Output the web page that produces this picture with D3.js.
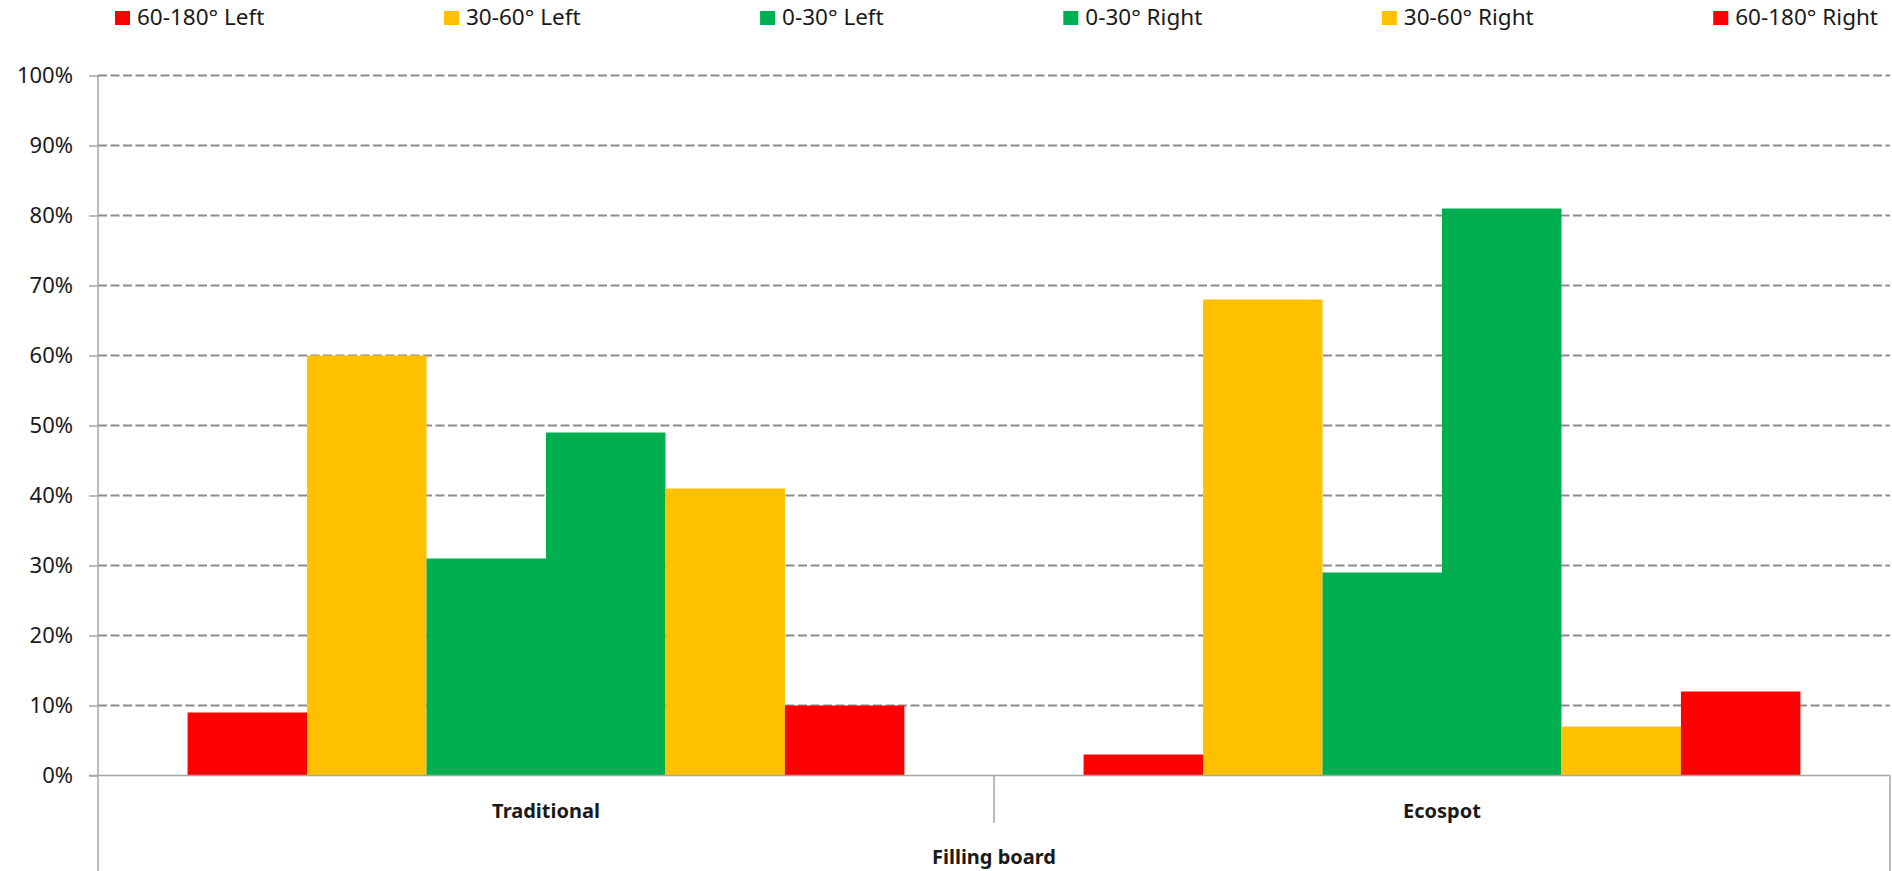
<!DOCTYPE html>
<html>
<head>
<meta charset="utf-8">
<script src="https://cdn.jsdelivr.net/npm/d3@7"></script>
<style>
  html, body { margin: 0; padding: 0; background: #fff; }
  svg { display: block; font-family: "Noto Sans", "Liberation Sans", sans-serif; }
</style>
</head>
<body>
<svg id="chart" width="1892" height="871"></svg>
<script>
// Share of turns by angle band, per filling board type
const categories = ["Traditional", "Ecospot"];
const seriesNames = ["60-180° Left", "30-60° Left", "0-30° Left", "0-30° Right", "30-60° Right", "60-180° Right"];
const seriesColors = ["#FF0000", "#FFC000", "#00B050", "#00B050", "#FFC000", "#FF0000"];
const traditionalValues = [0.09, 0.60, 0.31, 0.49, 0.41, 0.10];
const ecospotValues = [0.03, 0.68, 0.29, 0.81, 0.07, 0.12];
const yTicks = [0, 0.1, 0.2, 0.3, 0.4, 0.5, 0.6, 0.7, 0.8, 0.9, 1.0];
const axisTitle = "Filling board";

const valuesByCategory = [traditionalValues, ecospotValues];
const rows = categories.map((c, i) => ({ category: c, values: valuesByCategory[i] }));

const svg = d3.select("#chart");
const plot = { left: 98, right: 1890, top: 75.5, bottom: 775.5 };
const axisGray = "#a6a6a6";

const x0 = d3.scaleBand().domain(categories).range([plot.left, plot.right]).paddingInner(0).paddingOuter(0);
const x1 = d3.scaleBand().domain(d3.range(seriesNames.length)).range([0, x0.bandwidth()]).paddingInner(0).paddingOuter(0.75);
const y = d3.scaleLinear().domain([0, 1]).range([plot.bottom, plot.top]);

// Dashed horizontal gridlines
svg.append("g")
  .selectAll("line")
  .data(yTicks.filter(t => t > 0))
  .join("line")
  .attr("x1", plot.left).attr("x2", plot.right)
  .attr("y1", d => y(d)).attr("y2", d => y(d))
  .attr("stroke", "#8c8c8c")
  .attr("stroke-width", 2)
  .attr("stroke-dasharray", "9,3.5");

// Y axis with percentage labels
const yAxis = svg.append("g")
  .attr("transform", `translate(${plot.left},0)`)
  .call(d3.axisLeft(y).tickValues(yTicks).tickFormat(d3.format(".0%")).tickSize(9).tickPadding(16));
yAxis.select(".domain").remove();
yAxis.selectAll(".tick line").attr("stroke", axisGray).attr("stroke-width", 1.5);
yAxis.selectAll(".tick text")
  .attr("fill", "#1a1a1a")
  .style("font-size", "22px")
  .style("font-family", "'Noto Sans', sans-serif");

// Bars
const groups = svg.append("g")
  .selectAll("g")
  .data(rows)
  .join("g")
  .attr("transform", d => `translate(${x0(d.category)},0)`);

groups.selectAll("rect")
  .data(d => d.values.map((v, i) => ({ v, i })))
  .join("rect")
  .attr("x", d => x1(d.i))
  .attr("width", x1.bandwidth())
  .attr("y", d => y(d.v))
  .attr("height", d => y(0) - y(d.v))
  .attr("fill", d => seriesColors[d.i]);

// Axis lines
const axes = svg.append("g").attr("stroke", axisGray).attr("stroke-width", 1.5);
axes.append("line").attr("x1", plot.left).attr("x2", plot.left).attr("y1", plot.top).attr("y2", 871);
axes.append("line").attr("x1", plot.left - 9).attr("x2", plot.right).attr("y1", y(0)).attr("y2", y(0));
axes.append("line").attr("x1", plot.right).attr("x2", plot.right).attr("y1", y(0)).attr("y2", 871);
// Divider between category groups
categories.slice(1).forEach(c => {
  axes.append("line").attr("x1", x0(c)).attr("x2", x0(c)).attr("y1", y(0)).attr("y2", 823);
});

// Category labels
svg.append("g")
  .selectAll("text")
  .data(categories)
  .join("text")
  .attr("x", d => x0(d) + x0.bandwidth() / 2)
  .attr("y", 818)
  .attr("text-anchor", "middle")
  .attr("fill", "#1a1a1a")
  .style("font-size", "20px")
  .style("font-weight", "bold")
  .text(d => d);

// Axis title
svg.append("text")
  .attr("x", (plot.left + plot.right) / 2)
  .attr("y", 864)
  .attr("text-anchor", "middle")
  .attr("fill", "#1a1a1a")
  .style("font-size", "20px")
  .style("font-weight", "bold")
  .text(axisTitle);

// Legend across the top, spread evenly between both ends
const legendStart = 115, legendEnd = 1878, swatch = 15, textGap = 22;
const legend = svg.append("g");
const items = legend.selectAll("g")
  .data(seriesNames)
  .join("g");
items.append("rect")
  .attr("y", 11)
  .attr("width", swatch)
  .attr("height", 14)
  .attr("fill", (d, i) => seriesColors[i]);
items.append("text")
  .attr("x", textGap)
  .attr("y", 25)
  .attr("fill", "#1a1a1a")
  .style("font-size", "22.5px")
  .text(d => d);

const widths = [];
items.select("text").each(function () { widths.push(textGap + this.getComputedTextLength()); });
const free = (legendEnd - legendStart) - d3.sum(widths);
const spacing = free / (seriesNames.length - 1);
let cursor = legendStart;
items.each(function (d, i) {
  d3.select(this).attr("transform", `translate(${cursor},0)`);
  cursor += widths[i] + spacing;
});
</script>
</body>
</html>
